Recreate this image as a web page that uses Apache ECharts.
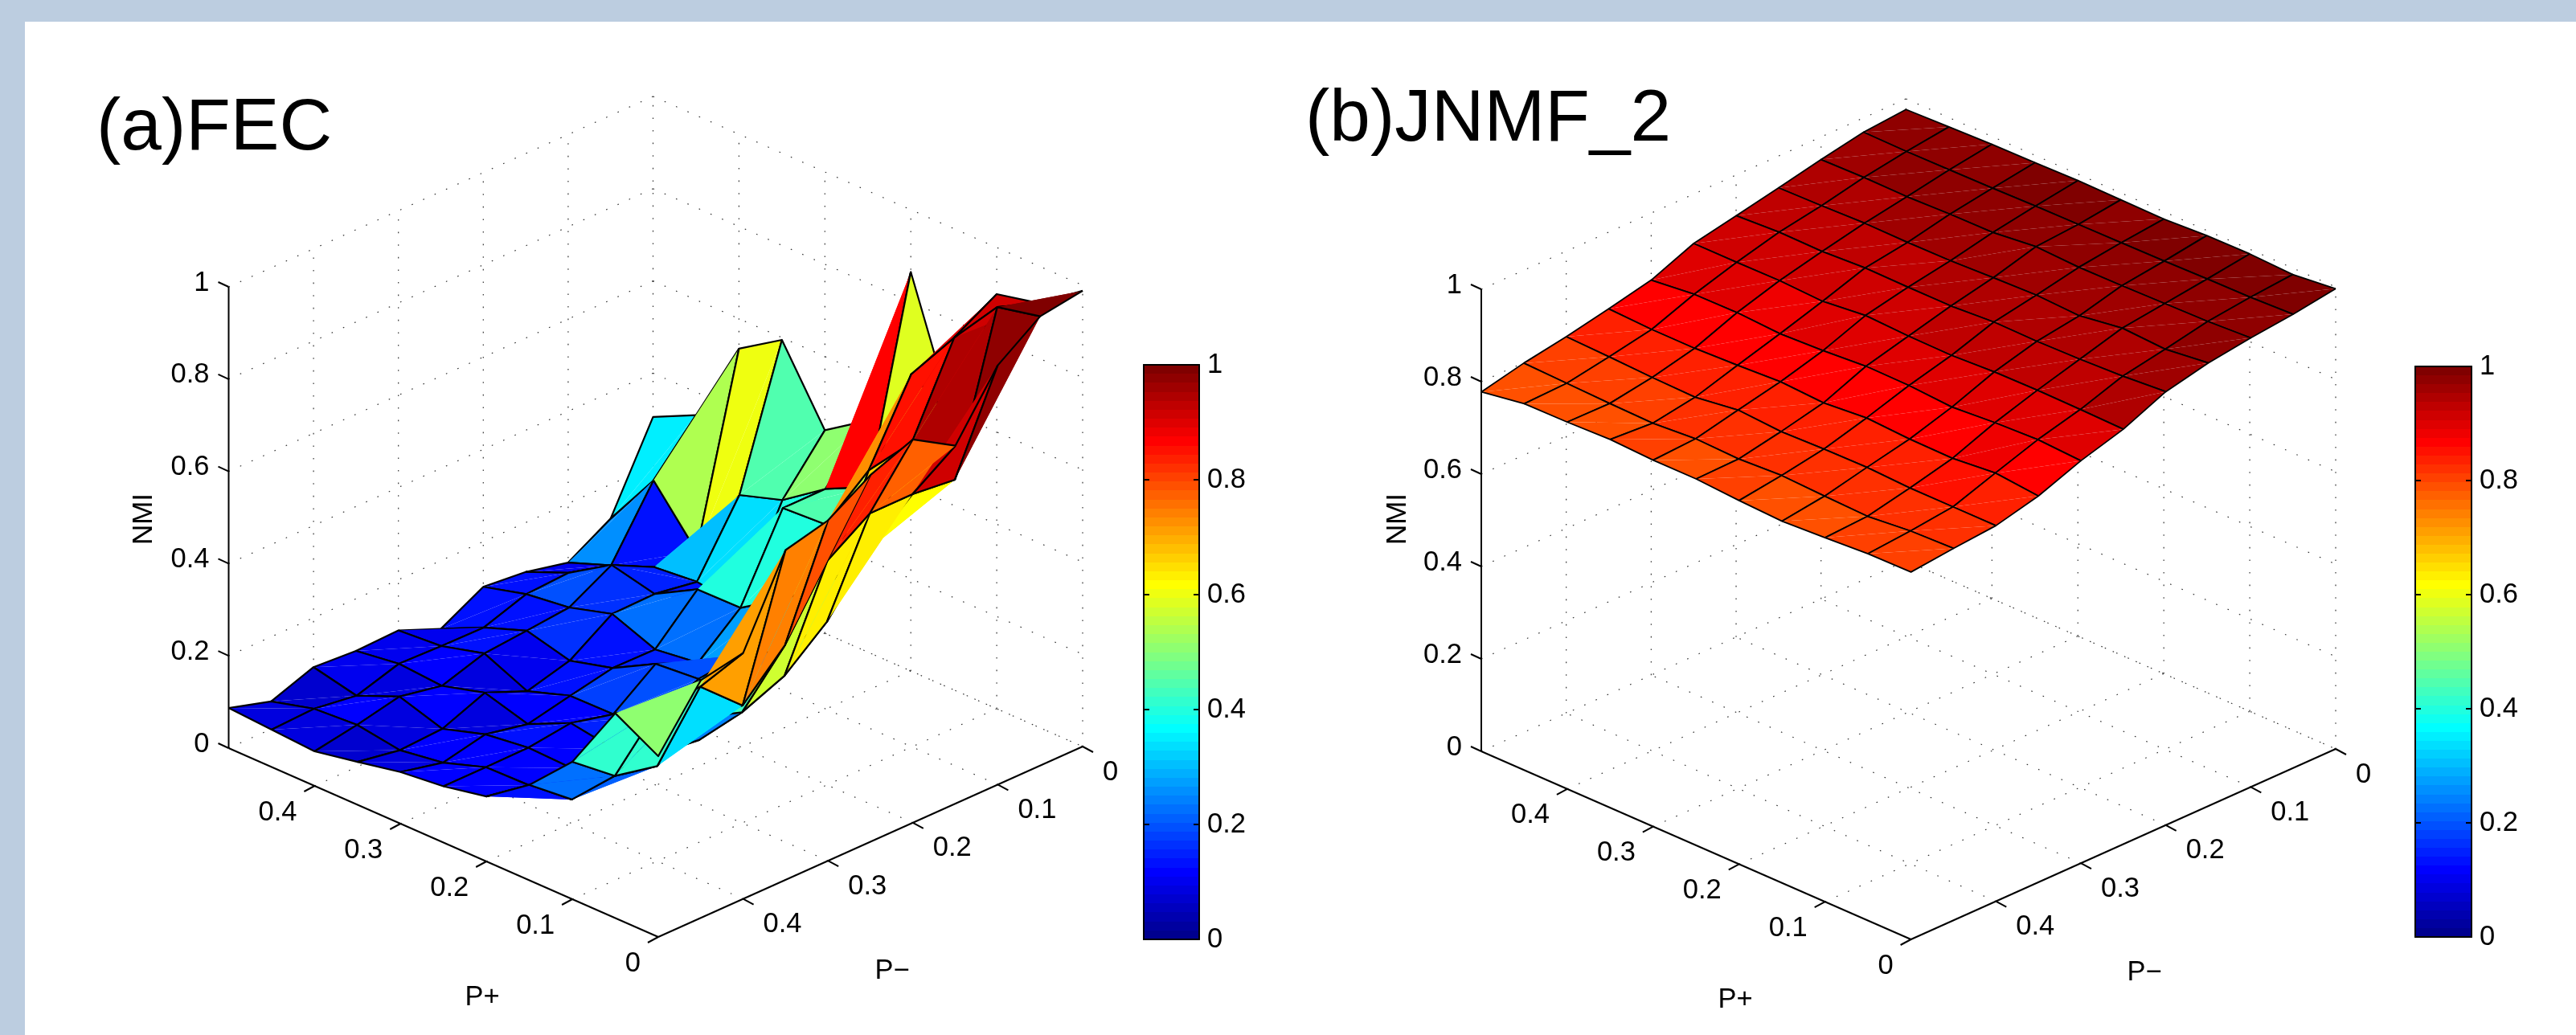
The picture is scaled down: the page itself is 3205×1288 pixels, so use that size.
<!DOCTYPE html>
<html><head><meta charset="utf-8">
<style>html,body{margin:0;padding:0;background:#fff}#c{width:3205px;height:1288px}</style>
<script src="https://cdn.jsdelivr.net/npm/echarts@6/dist/echarts.min.js"></script>
</head><body><div id="c"></div>
<script>
// ---------- data: rows run over P- (0.5 -> 0), columns over P+ (0.5 -> 0) ----------
const pPlusGrid  = [0.5,0.45,0.4,0.35,0.3,0.25,0.2,0.15,0.1,0.05,0];
const pMinusGrid = [0.5,0.45,0.4,0.35,0.3,0.25,0.2,0.15,0.1,0.05,0];
const fecNMI = [
 [.087,.081,.075,.093,.112,.122,.141,.207,.298,.444,.392],
 [.060,.085,.091,.077,.091,.122,.124,.134,.226,.413,.515],
 [.093,.072,.111,.082,.111,.123,.120,.160,.206,.419,.533],
 [.087,.100,.093,.119,.092,.135,.120,.150,.270,.337,.715],
 [.090,.097,.122,.081,.112,.113,.150,.139,.240,.427,.738],
 [.052,.096,.130,.106,.131,.181,.189,.200,.278,.569,.795],
 [.102,.127,.139,.166,.130,.142,.200,.250,.354,.630,.831],
 [.093,.132,.190,.168,.219,.220,.280,.350,.470,.630,.776],
 [.072,.107,.144,.153,.138,.395,.400,.559,.660,.620,.909],
 [.126,.250,.137,.300,.330,.395,.440,.726,.846,.953,.974],
 [.305,.350,.535,.595,.440,.502,.865,.585,.899,.920,.988]
];
const jnmfNMI = [
 [.778,.793,.794,.797,.793,.793,.787,.783,.788,.794,.795],
 [.799,.796,.793,.791,.798,.795,.800,.796,.793,.802,.805],
 [.815,.812,.808,.806,.819,.813,.816,.817,.813,.813,.813],
 [.834,.830,.830,.834,.839,.834,.842,.837,.836,.845,.836],
 [.855,.865,.866,.861,.865,.872,.871,.865,.872,.876,.871],
 [.893,.893,.894,.890,.900,.896,.895,.900,.901,.900,.898],
 [.912,.917,.916,.921,.920,.920,.926,.925,.927,.931,.938],
 [.931,.933,.936,.935,.936,.940,.943,.939,.953,.948,.959],
 [.951,.953,.952,.955,.956,.966,.962,.963,.965,.967,.972],
 [.969,.968,.969,.970,.972,.973,.974,.975,.977,.978,.982],
 [.977,.980,.983,.984,.986,.985,.984,.989,.990,.986,.996]
];
const pTicks = [0,0.1,0.2,0.3,0.4];
const zTicks = [0,0.2,0.4,0.6,0.8,1];

// ---------- layout ----------
const FONT = '"Liberation Sans", Arial, sans-serif';
const fecPanel = {
  data: fecNMI, L:[284.5,931], B:[819,1166], R:[1347,929], zPx:574, edge:2.2,
  pPlusName:[600,1241], pMinusName:[1110,1208], zName:[179,646]
};
const jnmfPanel = {
  data: jnmfNMI, L:[1843,935], B:[2377.6,1169], R:[2906,932], zPx:575, edge:1.8,
  pPlusName:[2159,1244], pMinusName:[2668,1210], zName:[1739,646]
};
const bars = [
  {left:1423, top:454, width:69, height:715},
  {left:3005, top:456, width:70, height:710}
];
const PMAX = 0.5;
const TICK = 34.5;

function project(p, pp, pm, z){
  const u = pp/PMAX, v = pm/PMAX;
  const Kx = p.L[0]+p.R[0]-p.B[0], Ky = p.L[1]+p.R[1]-p.B[1];
  return [ p.R[0] + v*(p.B[0]-p.R[0]) + u*(Kx-p.R[0]),
           p.R[1] + v*(p.B[1]-p.R[1]) + u*(Ky-p.R[1]) - z*p.zPx ];
}
// MATLAB jet(64)
function jetU(t){ return t<1||t>47 ? 0 : t<=16 ? t/16 : t<=31 ? 1 : (48-t)/16; }
function jetColor(idx){ // idx 1..64
  const c = v => Math.round(255*v);
  return 'rgb('+c(jetU(idx-24))+','+c(jetU(idx-8))+','+c(jetU(idx+8))+')';
}
function valueColor(z){ return jetColor(Math.min(64, Math.max(1, Math.floor(z*64)+1))); }

// triangles of the surface, painter-sorted (each quad splits along (i,j)-(i+1,j+1))
function buildTriangles(p){
  const Z = p.data, out = [];
  const depth = (i,j)=>47.5*(i-j)+290*Z[j][i];
  for(let j=0;j<10;j++) for(let i=0;i<10;i++){
    out.push([i,j,0,(depth(i,j)+depth(i+1,j)+depth(i+1,j+1))/3]);
    out.push([i,j,1,(depth(i,j)+depth(i+1,j+1)+depth(i,j+1))/3]);
  }
  out.sort((a,b)=>a[3]-b[3]);
  return out;
}
function surfaceSeries(p){
  const Z = p.data;
  return {
    type:'custom', coordinateSystem:'cartesian2d', xAxisIndex:0, yAxisIndex:0, z:3, silent:true, clip:false,
    animation:false, data:buildTriangles(p),
    renderItem(params, api){
      const i=api.value(0), j=api.value(1), t=api.value(2);
      const pt=(a,b)=>api.coord(project(p,pPlusGrid[a],pMinusGrid[b],Z[b][a]));
      const A=pt(i,j),Bb=pt(i+1,j),C=pt(i+1,j+1),D=pt(i,j+1);
      const poly = t===0?[A,Bb,C]:[A,C,D];
      const edges = t===0?[A,Bb,C]:[C,D,A];
      return {type:'group',children:[
        {type:'polygon',shape:{points:poly},style:{fill:valueColor(Z[j+1][i+1]),stroke:null}},
        {type:'polyline',shape:{points:edges},style:{stroke:'#000',lineWidth:p.edge,fill:null,lineJoin:'round'}}
      ]};
    }
  };
}
function txt(x,y,s,align,size){
  return {type:'text',style:{x,y,text:s,fontFamily:FONT,fontSize:size||TICK,fill:'#000',
    align:align,verticalAlign:'middle',textAlign:align,textVerticalAlign:'middle'}};
}
function fmt(v){ return String(v); }
function gridSeries(p){
  return {
    type:'custom', coordinateSystem:'cartesian2d', xAxisIndex:0, yAxisIndex:0, z:2, silent:true, clip:false,
    animation:false, data:[[0,0]],
    renderItem(params, api){
      const P=(a,b,c)=>api.coord(project(p,a,b,c));
      const dot=(a,b)=>({type:'line',shape:{x1:a[0],y1:a[1],x2:b[0],y2:b[1]},
        style:{stroke:'#333',lineWidth:1.2,lineDash:[1.6,14],fill:null}});
      const ch=[];
      pTicks.forEach(v=>{
        ch.push(dot(P(PMAX,v,0),P(PMAX,v,1)));   // wall P+ = max
        ch.push(dot(P(v,0,0),P(v,0,1)));         // wall P- = 0
        ch.push(dot(P(v,PMAX,0),P(v,0,0)));      // floor
        ch.push(dot(P(0,v,0),P(PMAX,v,0)));      // floor
      });
      zTicks.forEach(z=>{
        ch.push(dot(P(PMAX,PMAX,z),P(PMAX,0,z)));
        ch.push(dot(P(PMAX,0,z),P(0,0,z)));
      });
      return {type:'group',children:ch};
    }
  };
}
function axesSeries(p){
  return {
    type:'custom', coordinateSystem:'cartesian2d', xAxisIndex:0, yAxisIndex:0, z:4, silent:true, clip:false,
    animation:false, data:[[0,0]],
    renderItem(params, api){
      const P=(a,b,c)=>api.coord(project(p,a,b,c));
      const solid=(a,b,w)=>({type:'line',shape:{x1:a[0],y1:a[1],x2:b[0],y2:b[1]},
        style:{stroke:'#000',lineWidth:w||2,fill:null}});
      const off=(a,dx,dy)=>[a[0]+dx,a[1]+dy];
      const ch=[
        solid(P(PMAX,PMAX,0),P(0,PMAX,0)),
        solid(P(0,PMAX,0),P(0,0,0)),
        solid(P(PMAX,PMAX,0),P(PMAX,PMAX,1))
      ];
      pTicks.forEach(v=>{
        const a=P(v,PMAX,0);
        ch.push(solid(a,off(a,-13,7)));
        ch.push(txt(a[0]-22,a[1]+33,fmt(v),'right'));
        const b=P(0,v,0);
        ch.push(solid(b,off(b,13,7)));
        ch.push(txt(b[0]+25,b[1]+32,fmt(v),'left'));
      });
      zTicks.forEach(z=>{
        const a=P(PMAX,PMAX,z);
        ch.push(solid(a,off(a,-13,-6)));
        ch.push(txt(a[0]-24,a[1]-5,fmt(z),'right'));
      });
      const n1=api.coord(p.pPlusName), n2=api.coord(p.pMinusName), n3=api.coord(p.zName);
      ch.push(txt(n1[0],n1[1],'P+','center'));
      ch.push(txt(n2[0],n2[1],'P\u2212','center'));
      const nm=txt(0,0,'NMI','center',35);
      nm.x=n3[0]; nm.y=n3[1]; nm.rotation=Math.PI/2;
      ch.push(nm);
      return {type:'group',children:ch};
    }
  };
}

// ---------- colorbar axes ----------
const colorLevels = Array.from({length:64},(_,k)=>[k]);
const xAxes=[{type:'value',gridIndex:0,min:0,max:3205,show:false}];
const yAxes=[{type:'value',gridIndex:0,min:0,max:1288,inverse:true,show:false}];
const grids=[{left:0,top:0,width:3205,height:1288,containLabel:false}];
const barSeries=[];
bars.forEach((b,n)=>{
  const g=n+1;
  grids.push(Object.assign({containLabel:false},b));
  const line={show:true,onZero:false,lineStyle:{color:'#000',width:2}};
  const xi=xAxes.length, yi=yAxes.length;
  ['bottom','top'].forEach(pos=>xAxes.push({type:'value',gridIndex:g,position:pos,min:0,max:1,z:6,
    axisLine:line,axisTick:{show:false},axisLabel:{show:false},splitLine:{show:false}}));
  yAxes.push({type:'value',gridIndex:g,position:'right',min:0,max:1,interval:0.2,z:6,
    axisLine:line,axisTick:{show:true,inside:true,length:7,lineStyle:{color:'#000',width:2}},
    axisLabel:{show:true,color:'#000',fontFamily:FONT,fontSize:TICK,margin:10,padding:[4,0,0,0]},splitLine:{show:false}});
  yAxes.push({type:'value',gridIndex:g,position:'left',min:0,max:1,interval:0.2,z:6,
    axisLine:line,axisTick:{show:true,inside:true,length:7,lineStyle:{color:'#000',width:2}},
    axisLabel:{show:false},splitLine:{show:false}});
  barSeries.push({type:'custom',coordinateSystem:'cartesian2d',xAxisIndex:xi,yAxisIndex:yi,z:3,silent:true,
    animation:false,data:colorLevels,
    renderItem(params,api){
      const k=api.value(0);
      const p0=api.coord([0,k/64]),p1=api.coord([1,(k+1)/64]);
      const y1=Math.round(p1[1]),y0=Math.round(p0[1]);
      return {type:'rect',shape:{x:p0[0],y:y1,width:p1[0]-p0[0],height:y0-y1},style:{fill:jetColor(k+1)}};
    }});
});

const chart=echarts.init(document.getElementById('c'),null,{renderer:'canvas',width:3205,height:1288});
const titleStyle={fontFamily:FONT,fontSize:91,fontWeight:'normal',color:'#000'};
chart.setOption({
  animation:false,
  backgroundColor:'#BCCDE0',
  title:[
    {text:'(a)FEC',left:115,top:110,textStyle:titleStyle},
    {text:'(b)JNMF_2',left:1619,top:99,textStyle:titleStyle}
  ],
  graphic:{elements:[{type:'rect',z:-10,silent:true,shape:{x:31,y:27,width:3174,height:1261},style:{fill:'#fff'}}]},
  grid:grids, xAxis:xAxes, yAxis:yAxes,
  series:[
    gridSeries(fecPanel),surfaceSeries(fecPanel),axesSeries(fecPanel),
    gridSeries(jnmfPanel),surfaceSeries(jnmfPanel),axesSeries(jnmfPanel)
  ].concat(barSeries)
});
</script></body></html>
